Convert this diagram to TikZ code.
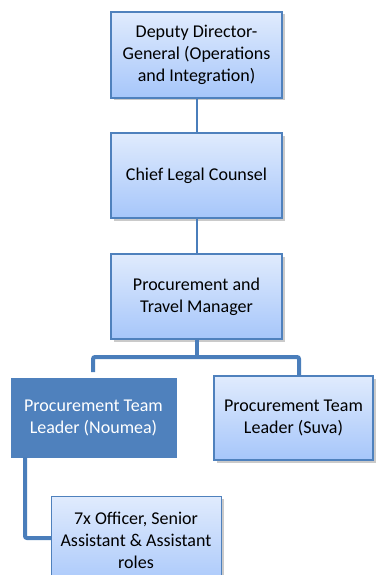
\documentclass[tikz,border=0pt]{standalone}
\usepackage{fontspec}
\setmainfont{Carlito}
\usetikzlibrary{shadows}
\definecolor{bord}{RGB}{79,129,189}
\definecolor{topc}{RGB}{224,235,253}
\definecolor{botc}{RGB}{166,198,250}
\definecolor{lnc}{RGB}{74,126,187}
\tikzset{
  boxfont/.style={font=\fontsize{18}{22}\selectfont},
  box/.style={draw=bord, line width=1.2pt, top color=topc, bottom color=botc,
    drop shadow={shadow xshift=2.5pt, shadow yshift=-2.5pt, opacity=0.35, fill=black!60},
    align=center, boxfont, inner sep=0pt},
  darkbox/.style={draw=bord, line width=1pt, fill=bord, text=white,
    align=center, boxfont, inner sep=0pt},
  thin/.style={draw=lnc, line width=2pt},
  thick/.style={draw=lnc, line width=4pt, rounded corners=2pt},
}
\begin{document}
\begin{tikzpicture}[x=1pt,y=-1pt]
\useasboundingbox (0,0) rectangle (377,575);
\node[box, minimum width=171pt, minimum height=86pt] (a) at (196.5,55) {Deputy Director-\\General (Operations\\and Integration)};
\node[box, minimum width=171pt, minimum height=85pt] (b) at (196.5,175.5) {Chief Legal Counsel};
\node[box, minimum width=171pt, minimum height=85pt] (c) at (196.5,296.5) {Procurement and\\Travel Manager};
\node[darkbox, minimum width=165pt, minimum height=79pt] (d) at (93.5,417.5) {Procurement Team\\Leader (Noumea)};
\node[box, minimum width=159pt, minimum height=84pt] (e) at (293.5,418) {Procurement Team\\Leader (Suva)};
\node[box, minimum width=170pt, minimum height=95pt, anchor=north west] (f) at (51,496) {};
\node[align=center, boxfont] (ft) at (136,540) {7x Officer, Senior\\Assistant \& Assistant\\roles};
\draw[thin] (a.south) -- (b.north);
\draw[thin] (b.south) -- (c.north);
\coordinate (bus) at (196.5,357);
\draw[thick] (c.south) -- (bus);
\draw[thick] (93,372) |- (bus) -| (e.north -| 299,0);
\coordinate (dl) at (25,457);
\draw[thick] (dl) |- (f.west |- 0,538);
\end{tikzpicture}
\end{document}
